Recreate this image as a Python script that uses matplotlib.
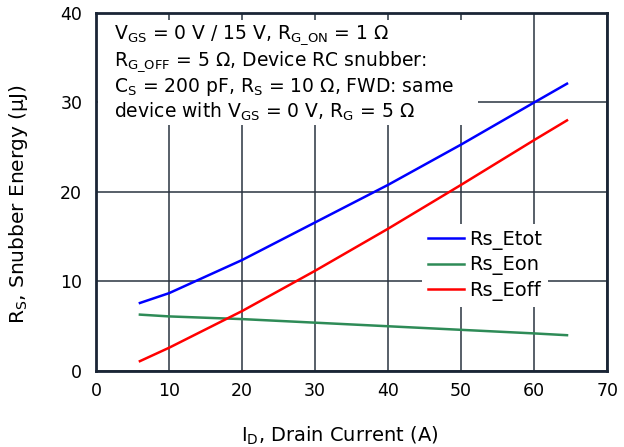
import matplotlib
matplotlib.use("Agg")
import matplotlib.pyplot as plt
from matplotlib.patches import Rectangle

plt.rcParams['font.family'] = ['DejaVu Sans']
plt.rcParams['mathtext.fontset'] = 'dejavusans'

# drain current (A) and snubber energies (uJ)
current = [6, 10, 20, 30, 40, 50, 60, 64.5]
rs_etot = [7.6, 8.7, 12.4, 16.6, 20.8, 25.3, 30.0, 32.1]
rs_eon = [6.3, 6.1, 5.8, 5.4, 5.0, 4.6, 4.2, 4.0]
rs_eoff = [1.1, 2.6, 6.7, 11.2, 15.9, 20.8, 25.8, 28.0]

xticks = [0, 10, 20, 30, 40, 50, 60, 70]
yticks = [0, 10, 20, 30, 40]

note = ("$\\mathrm{V_{GS}}$ = 0 V / 15 V, $\\mathrm{R_{G\\_ON}}$ = 1 Ω\n"
        "$\\mathrm{R_{G\\_OFF}}$ = 5 Ω, Device RC snubber:\n"
        "$\\mathrm{C_S}$ = 200 pF, $\\mathrm{R_S}$ = 10 Ω, FWD: same\n"
        "device with $\\mathrm{V_{GS}}$ = 0 V, $\\mathrm{R_G}$ = 5 Ω")

fig = plt.figure(figsize=(6.24, 4.47), dpi=100)
ax = fig.add_axes([0.154, 0.170, 0.819, 0.801])

ax.plot(current, rs_etot, color='#0000ff', lw=1.8, label='Rs_Etot', zorder=4)
ax.plot(current, rs_eon, color='#2e8b57', lw=1.8, label='Rs_Eon', zorder=4)
ax.plot(current, rs_eoff, color='#ff0000', lw=1.8, label='Rs_Eoff', zorder=4)

ax.set_xlim(0, 70)
ax.set_ylim(0, 40)
ax.set_xticks(xticks)
ax.set_yticks(yticks)
ax.grid(True, color='#2a3440', lw=1.1)
ax.set_axisbelow(True)
ax.tick_params(length=0, labelsize=12.5, colors='black')
ax.tick_params(axis='x', pad=8)
ax.tick_params(axis='y', pad=10)
for s in ax.spines.values():
    s.set_color('#1a2535')
    s.set_linewidth(2)

# white block behind the note
ax.add_patch(Rectangle((0.003, 0.687), 0.745, 0.293, transform=ax.transAxes,
                       facecolor='white', edgecolor='none', zorder=2))
ax.text(0.035, 0.972, note, transform=ax.transAxes, fontsize=13.5,
        va='top', ha='left', linespacing=1.15, zorder=3)

leg = ax.legend(loc='center', bbox_to_anchor=(0.761, 0.295), fontsize=14,
                frameon=True, fancybox=False, framealpha=1, edgecolor='none',
                handlelength=1.85, handletextpad=0.3, labelspacing=0.3,
                borderpad=0.3)
leg.set_zorder(5)

ax.set_xlabel("$\\mathrm{I_D}$, Drain Current (A)", fontsize=14)
ax.xaxis.set_label_coords(0.477, -0.15)
ax.set_ylabel("$\\mathrm{R_S}$, Snubber Energy (μJ)", fontsize=14.5)
ax.yaxis.set_label_coords(-0.13, 0.465)

fig.savefig("out.png", dpi=100)
